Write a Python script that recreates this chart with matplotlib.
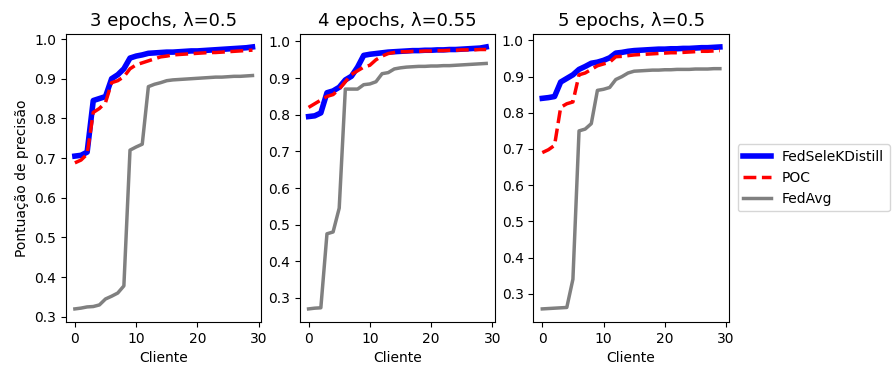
import numpy as np
import matplotlib
matplotlib.use("Agg")
import matplotlib.pyplot as plt

clientes = np.arange(30)

titulos = ['3 epochs, λ=0.5', '4 epochs, λ=0.55', '5 epochs, λ=0.5']

# precisao por cliente (ordenada)
fedsele_3 = [0.705, 0.707, 0.715, 0.845, 0.850, 0.855, 0.900, 0.910, 0.925, 0.952,
             0.957, 0.960, 0.964, 0.965, 0.966, 0.967, 0.967, 0.968, 0.969, 0.970,
             0.970, 0.971, 0.972, 0.973, 0.974, 0.975, 0.976, 0.977, 0.978, 0.980]
poc_3 = [0.688, 0.695, 0.710, 0.815, 0.825, 0.840, 0.890, 0.895, 0.905, 0.925,
         0.935, 0.940, 0.945, 0.950, 0.955, 0.957, 0.960, 0.961, 0.962, 0.963,
         0.964, 0.965, 0.966, 0.966, 0.967, 0.968, 0.969, 0.970, 0.971, 0.972]
fedavg_3 = [0.320, 0.322, 0.325, 0.326, 0.330, 0.345, 0.352, 0.360, 0.378, 0.720,
            0.728, 0.735, 0.880, 0.886, 0.890, 0.895, 0.897, 0.898, 0.899, 0.900,
            0.901, 0.902, 0.903, 0.904, 0.904, 0.905, 0.906, 0.906, 0.907, 0.908]

fedsele_4 = [0.795, 0.797, 0.805, 0.860, 0.865, 0.875, 0.895, 0.905, 0.930, 0.962,
             0.965, 0.967, 0.969, 0.971, 0.972, 0.973, 0.974, 0.975, 0.975, 0.976,
             0.976, 0.977, 0.977, 0.978, 0.978, 0.979, 0.980, 0.981, 0.982, 0.985]
poc_4 = [0.820, 0.830, 0.840, 0.850, 0.855, 0.870, 0.890, 0.910, 0.920, 0.930,
         0.935, 0.950, 0.960, 0.967, 0.970, 0.972, 0.972, 0.973, 0.973, 0.974,
         0.974, 0.975, 0.975, 0.976, 0.976, 0.977, 0.977, 0.977, 0.978, 0.978]
fedavg_4 = [0.270, 0.272, 0.273, 0.475, 0.480, 0.545, 0.870, 0.870, 0.870, 0.882,
            0.884, 0.890, 0.912, 0.915, 0.925, 0.928, 0.930, 0.931, 0.932, 0.932,
            0.933, 0.933, 0.934, 0.934, 0.935, 0.936, 0.937, 0.938, 0.939, 0.940]

fedsele_5 = [0.840, 0.842, 0.845, 0.885, 0.895, 0.905, 0.920, 0.928, 0.937, 0.940,
             0.945, 0.952, 0.965, 0.967, 0.970, 0.972, 0.973, 0.974, 0.975, 0.976,
             0.976, 0.977, 0.977, 0.978, 0.978, 0.979, 0.980, 0.980, 0.981, 0.982]
poc_5 = [0.690, 0.698, 0.710, 0.815, 0.825, 0.830, 0.905, 0.910, 0.920, 0.930,
         0.935, 0.940, 0.955, 0.956, 0.958, 0.960, 0.961, 0.962, 0.963, 0.964,
         0.965, 0.966, 0.966, 0.967, 0.968, 0.969, 0.970, 0.970, 0.971, 0.972]
fedavg_5 = [0.258, 0.259, 0.260, 0.261, 0.262, 0.340, 0.750, 0.755, 0.770, 0.862,
            0.865, 0.870, 0.892, 0.900, 0.910, 0.915, 0.916, 0.917, 0.918, 0.918,
            0.919, 0.919, 0.920, 0.920, 0.920, 0.921, 0.921, 0.921, 0.922, 0.922]

dados = [(fedsele_3, poc_3, fedavg_3),
         (fedsele_4, poc_4, fedavg_4),
         (fedsele_5, poc_5, fedavg_5)]

fig = plt.figure(figsize=(8.92, 3.68), dpi=100)
lefts = [0.074, 0.336, 0.598]
axes = [fig.add_axes([l, 0.125, 0.219, 0.783]) for l in lefts]

for ax, titulo, (fs, poc, avg) in zip(axes, titulos, dados):
    ax.plot(clientes, fs, color='blue', linewidth=4, label='FedSeleKDistill')
    ax.plot(clientes, poc, color='red', linestyle='--', linewidth=2.5, label='POC')
    ax.plot(clientes, avg, color='gray', linewidth=2.5, label='FedAvg')
    ax.set_title(titulo, fontsize=13)
    ax.set_xlabel('Cliente')
    ax.set_xticks([0, 10, 20, 30])

axes[0].set_ylabel('Pontuação de precisão')
axes[2].legend(loc='center left', bbox_to_anchor=(1.01, 0.5))

fig.savefig('out.png', dpi=100)
